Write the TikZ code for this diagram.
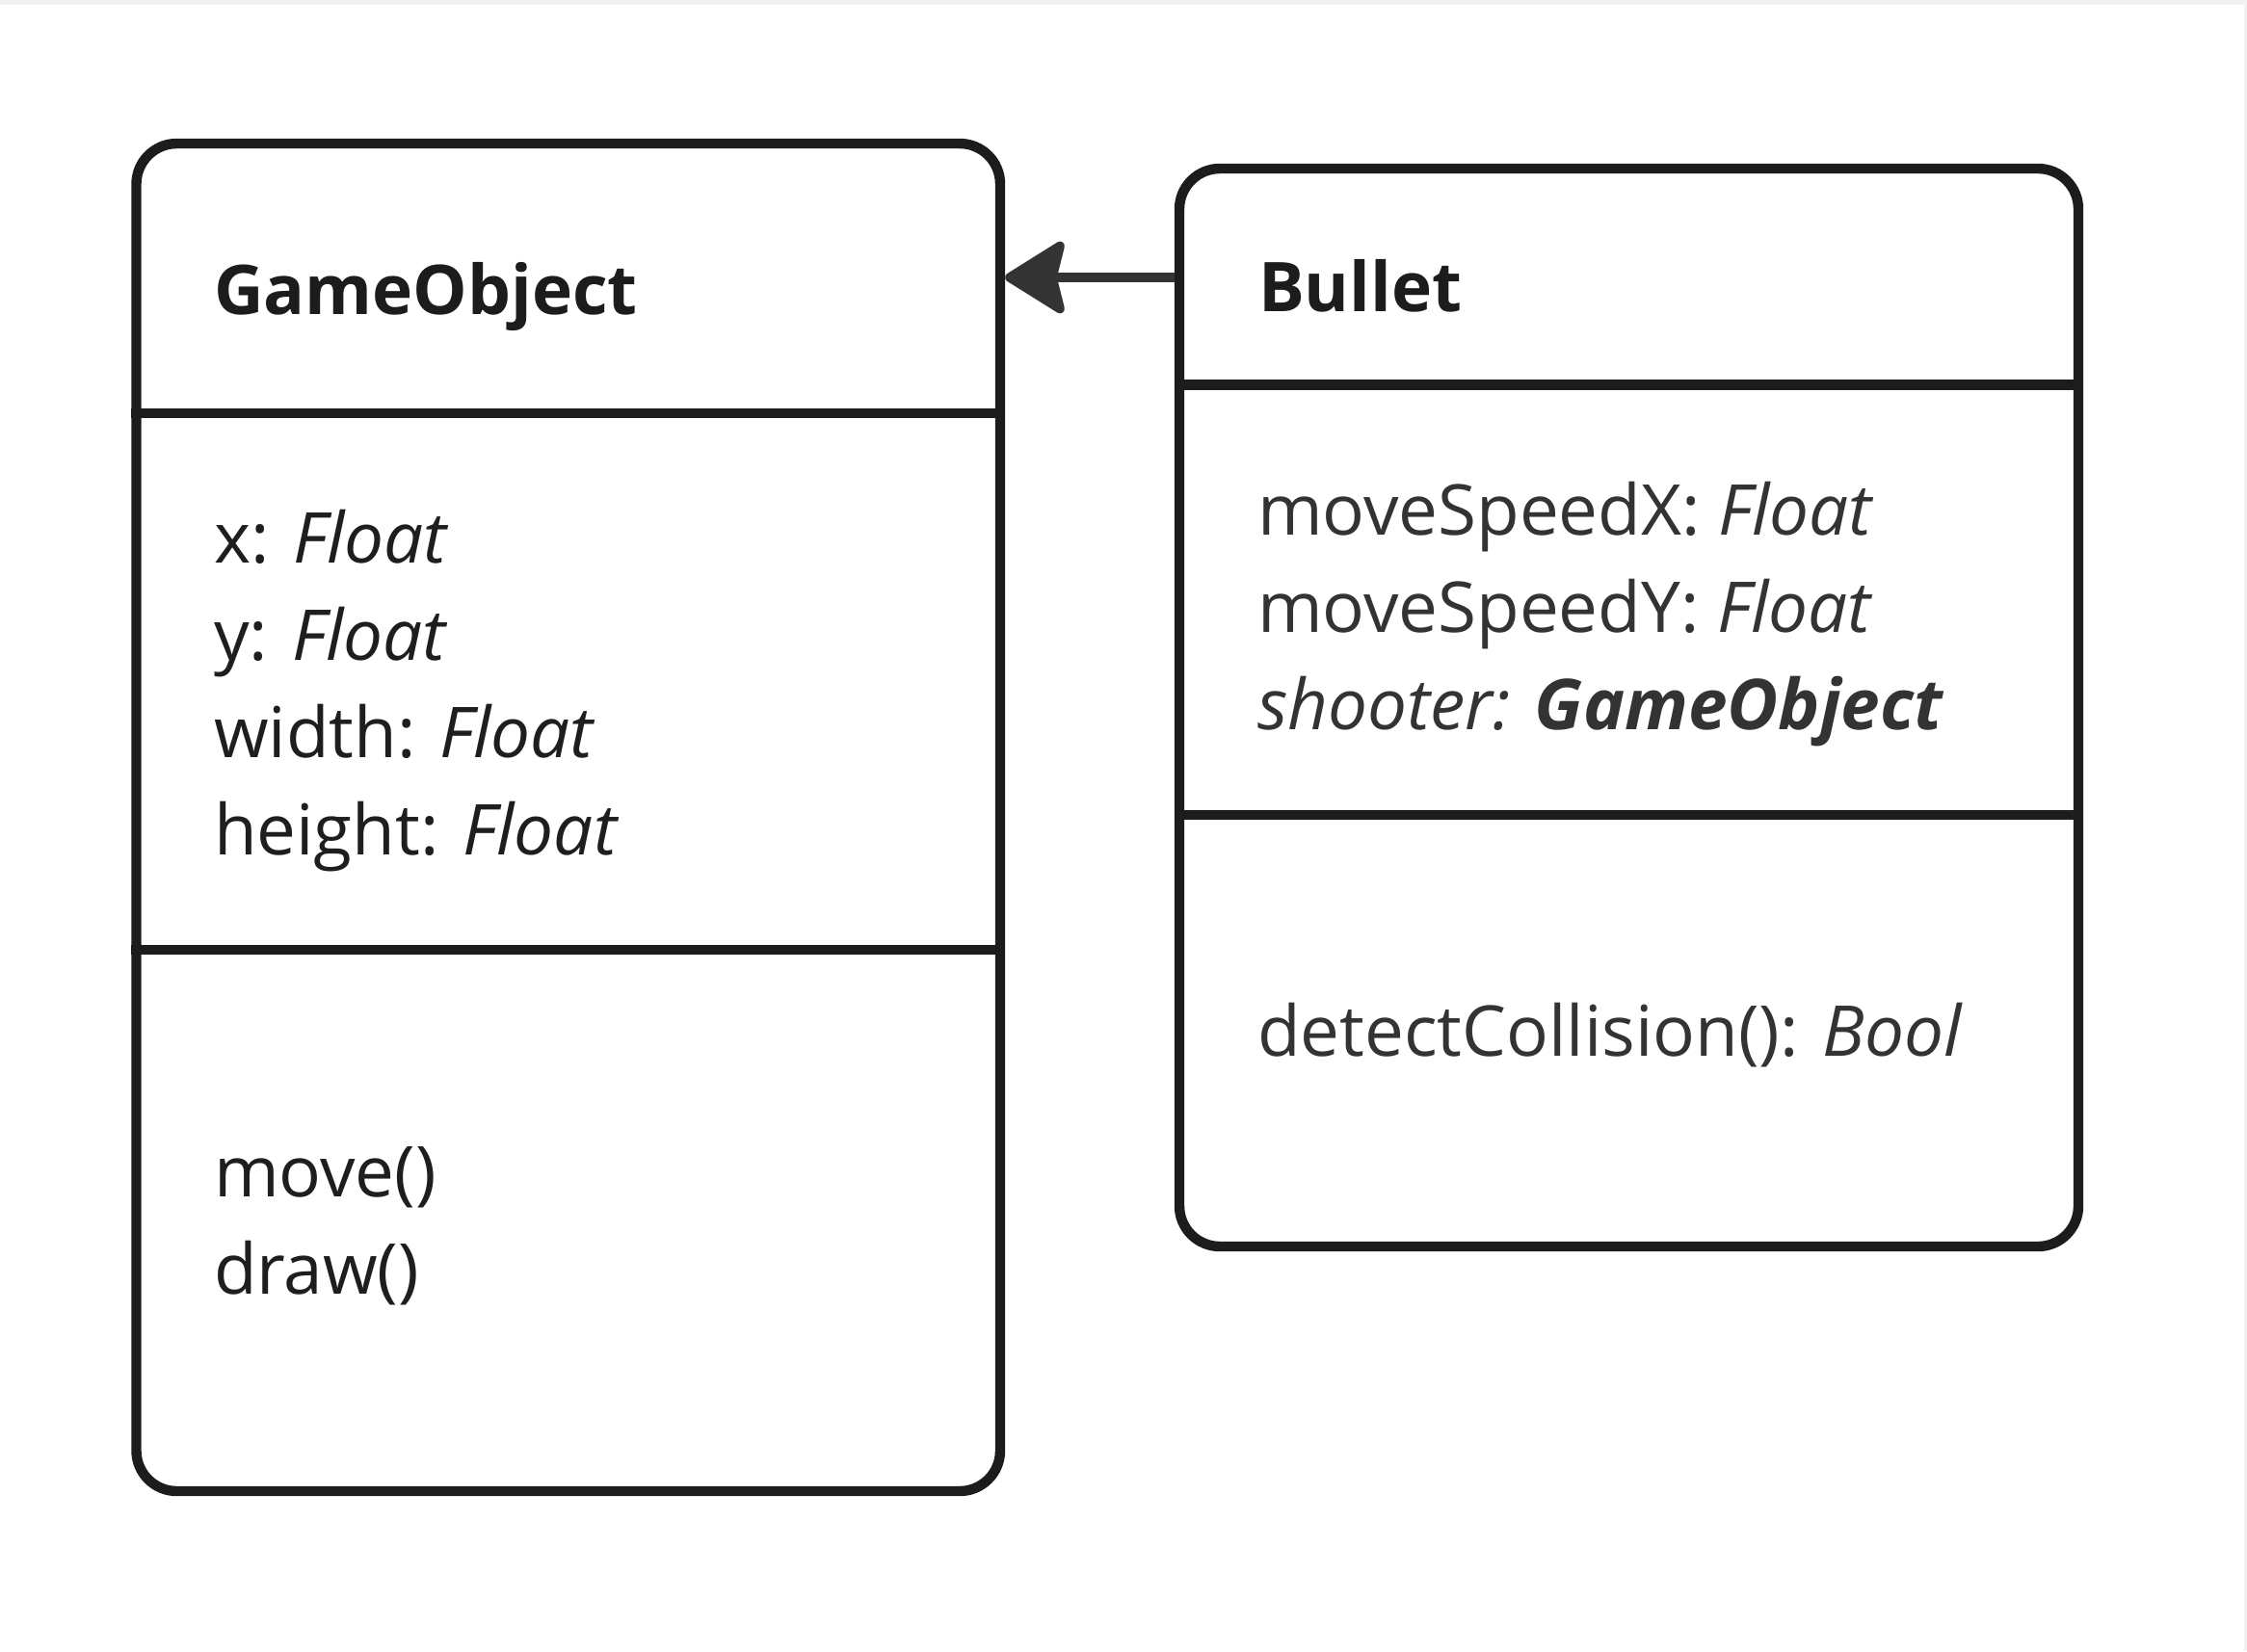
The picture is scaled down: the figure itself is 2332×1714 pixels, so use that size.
\documentclass[tikz,border=0pt]{standalone}
\usepackage{fontspec}
\setmainfont{Open Sans}
\usetikzlibrary{arrows.meta}
\definecolor{linec}{HTML}{1C1C1C}
\definecolor{arrowc}{HTML}{333333}
\definecolor{txtA}{HTML}{1E1E1E}
\definecolor{txtB}{HTML}{333333}
\definecolor{stripc}{HTML}{F1F1F1}
\tikzset{
  classbox/.style={draw=linec, line width=2.6pt, rounded corners=10.5pt, fill=white, inner sep=0pt, shape=rectangle},
  divider/.style={draw=linec, line width=2.6pt},
  txt/.style={anchor=base west, inner sep=0pt, outer sep=0pt, font=\fontsize{18.2pt}{25pt}\selectfont},
  ttl/.style={txt, font=\fontsize{17.8pt}{25pt}\selectfont\bfseries, text=linec},
  assoc/.style={draw=arrowc, line width=2.4pt, -{Stealth[length=17pt, width=21pt, inset=2.5pt, round, fill=arrowc]}},
}
\begin{document}
\begin{tikzpicture}[x=0.25pt, y=-0.25pt]
\useasboundingbox (0,0) rectangle (2332,1714);
\fill[white] (0,0) rectangle (2332,1714);
\fill[stripc] (0,0) rectangle (2332,5);
\fill[stripc] (2329,0) rectangle (2332,1714);

% GameObject
\node[classbox, minimum width=224.125pt, minimum height=349.75pt] (go) at (589.75,848.5) {};
\draw[divider] (go.west |- 0,429) -- (go.east |- 0,429);
\draw[divider] (go.west |- 0,986) -- (go.east |- 0,986);
\node[ttl] (goT) at (222,326) {GameObject};
\node[txt, text=txtA] (goA1) at (222,584) {x: \textit{Float}};
\node[txt, text=txtA] (goA2) at (222,685) {y: \textit{Float}};
\node[txt, text=txtA] (goA3) at (222,786) {width: \textit{Float}};
\node[txt, text=txtA] (goA4) at (222,887) {height: \textit{Float}};
\node[txt, text=txtA] (goM1) at (222,1242) {move()};
\node[txt, text=txtA] (goM2) at (222,1343) {draw()};

% Bullet
\node[classbox, minimum width=233.25pt, minimum height=279.75pt] (bu) at (1690.5,734.5) {};
\draw[divider] (bu.west |- 0,399.5) -- (bu.east |- 0,399.5);
\draw[divider] (bu.west |- 0,846) -- (bu.east |- 0,846);
\node[ttl] (buT) at (1306,323) {Bullet};
\node[txt, text=txtB] (buA1) at (1305,555) {moveSpeedX: \textit{Float}};
\node[txt, text=txtB] (buA2) at (1305,656) {moveSpeedY: \textit{Float}};
\node[txt, text=txtB] (buA3) at (1305,757) {\textit{shooter:} \textbf{\textit{GameObject}}};
\node[txt, text=txtB] (buM1) at (1305,1096) {detectCollision(): \textit{Bool}};

% generalization arrow
\coordinate (bl) at (bu.west |- 0,288);
\draw[assoc] (bl) -- (go.east |- bl);
\end{tikzpicture}
\end{document}
